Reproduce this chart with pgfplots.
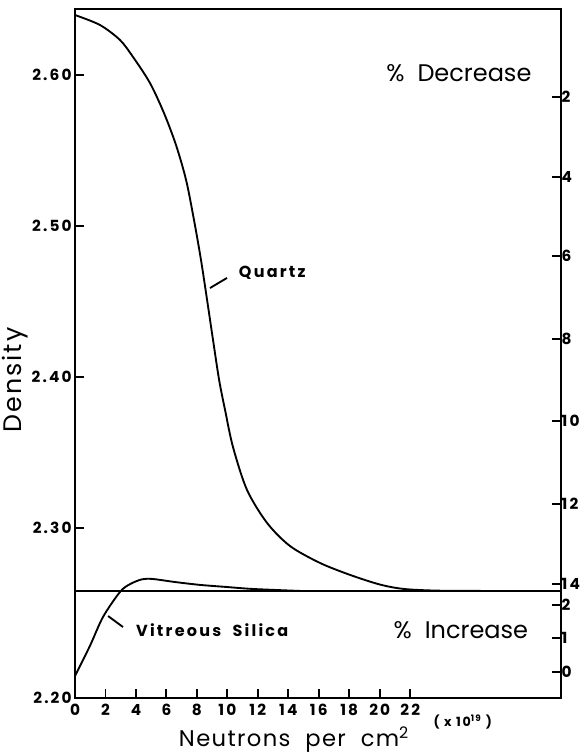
\documentclass[border=0pt]{standalone}
\usepackage{fontspec}
\setmainfont{Poppins}
\newfontfamily\lbl{Poppins}[LetterSpace=14]
\usepackage{pgfplots}
\pgfplotsset{compat=1.18}

% shared frame for the density axis and the percentage axis
\pgfplotsset{
  densityframe/.style={
    scale only axis,
    width=364.5pt, height=516.75pt,
    at={(56.25pt,41.25pt)},
    xmin=0, xmax=31.9,
    ymin=2.1874, ymax=2.6437,
    tick align=inside,
    major tick length=7pt,
    every tick/.style={line width=1.4pt, black},
    axis line style={line width=1.8pt},
    tick label style={font=\lbl\bfseries\fontsize{11.5}{13}\selectfont},
    /pgf/number format/assume math mode=true,
  }
}

\begin{document}
\begin{tikzpicture}
\useasboundingbox (0,0) rectangle (441pt,564.75pt);

\begin{axis}[
  densityframe,
  clip=false,
  xtick={0,2,...,22},
  xtick pos=bottom,
  xticklabel style={yshift=-1pt},
  ytick={2.1874,2.3,2.4,2.5,2.6},
  yticklabels={2.20,2.30,2.40,2.50,2.60},
  ytick pos=left,
  yticklabel style={xshift=1pt},
  ylabel={Density},
  ylabel style={at={(rel axis cs:-0.1235,0.4615)}, anchor=center,
    font=\fontsize{19}{21}\selectfont\addfontfeatures{LetterSpace=8}},
  xlabel={Neutrons\ \ per\ \ cm\textsuperscript{2}},
  xlabel style={at={(rel axis cs:0.4506,-0.0705)}, anchor=base,
    font=\fontsize{17}{19}\selectfont\addfontfeatures{LetterSpace=6}},
]
% quartz
\addplot[black, line width=1.4pt, smooth] coordinates {
  (0,2.6397) (1.64,2.6331) (2.95,2.6232) (3.81,2.6119) (4.92,2.5947)
  (5.84,2.5748) (6.63,2.5536) (7.29,2.5305) (7.81,2.5040) (8.27,2.4775)
  (8.67,2.4510) (9.06,2.4245) (9.46,2.3980) (9.85,2.3781) (10.37,2.3536)
  (11.29,2.3252) (12.61,2.3033) (14.12,2.2880) (16.09,2.2768) (18.06,2.2689)
  (20.03,2.2625) (21.60,2.2596) (23.80,2.2585) (27.05,2.2583)
};
% vitreous silica
\addplot[black, line width=1.4pt, smooth] coordinates {
  (0,2.2020) (0.98,2.2219) (1.84,2.2411) (2.95,2.2576) (3.61,2.2628)
  (4.40,2.2660) (5.12,2.2662) (6.57,2.2642) (8.21,2.2623) (9.98,2.2609)
  (11.69,2.2596) (14.77,2.2583)
};
% common final density
\addplot[black, line width=1.6pt] coordinates {(0,2.2583) (31.9,2.2583)};

\node[anchor=west, font=\lbl\bfseries\fontsize{12}{14}\selectfont]
  at (axis cs:10.45,2.4689) {Quartz};
\draw[line width=1.4pt] (axis cs:8.86,2.4589) -- (axis cs:9.98,2.4656);

\node[anchor=west, font=\lbl\bfseries\fontsize{12}{14}\selectfont]
  at (axis cs:3.70,2.2325) {Vitreous\ \ Silica};
\draw[line width=1.4pt] (axis cs:2.17,2.2417) -- (axis cs:3.15,2.2344);

\node[font=\fontsize{18}{21}\selectfont] at (rel axis cs:0.790,0.907) {\%\ \ Decrease};
\node[font=\fontsize{18}{21}\selectfont] at (rel axis cs:0.794,0.0987) {\%\ \ Increase};
\node[font=\lbl\bfseries\fontsize{9.5}{11}\selectfont] at (rel axis cs:0.798,-0.0348)
  {( x 10\textsuperscript{19} )};
\end{axis}

% percentage scale on the right
\begin{axis}[
  densityframe,
  hide x axis,
  axis y line*=right,
  ytick={2.5854,2.5325,2.4801,2.4252,2.3709,2.3159,2.2629,2.2490,2.2272,2.2046},
  yticklabels={2,4,6,8,10,12,14,2,1,0},
  yticklabel style={xshift=-3pt},
]
\end{axis}
\end{tikzpicture}
\end{document}
